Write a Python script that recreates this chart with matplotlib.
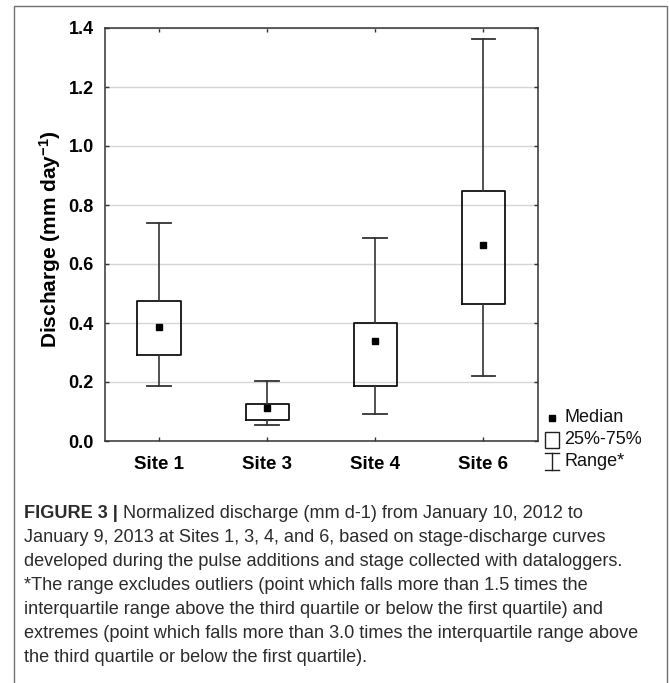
import matplotlib
matplotlib.use("Agg")
import matplotlib.pyplot as plt
import matplotlib.ticker as ticker
from matplotlib.patches import Rectangle
from matplotlib.lines import Line2D

# data (mm day-1)
sites = ["Site 1", "Site 3", "Site 4", "Site 6"]
range_low = [0.185, 0.053, 0.093, 0.220]
q25 = [0.291, 0.071, 0.185, 0.465]
median = [0.387, 0.111, 0.339, 0.665]
q75 = [0.474, 0.125, 0.401, 0.849]
range_high = [0.740, 0.202, 0.689, 1.362]
yticks = [0.0, 0.2, 0.4, 0.6, 0.8, 1.0, 1.2, 1.4]

legend_labels = ["Median", "25%-75%", "Range*"]

caption_bold = "FIGURE 3 | "
caption_lines = [
    "Normalized discharge (mm d-1) from January 10, 2012 to",
    "January 9, 2013 at Sites 1, 3, 4, and 6, based on stage-discharge curves",
    "developed during the pulse additions and stage collected with dataloggers.",
    "*The range excludes outliers (point which falls more than 1.5 times the",
    "interquartile range above the third quartile or below the first quartile) and",
    "extremes (point which falls more than 3.0 times the interquartile range above",
    "the third quartile or below the first quartile).",
]

W, H = 669, 683
plt.rcParams["font.family"] = ["Liberation Sans", "DejaVu Sans"]
plt.rcParams["mathtext.fontset"] = "custom"
plt.rcParams["mathtext.rm"] = "Liberation Sans:bold"
plt.rcParams["mathtext.it"] = "Liberation Sans:bold"
plt.rcParams["mathtext.bf"] = "Liberation Sans:bold"


def fx(px):
    return px / W


def fy(py):
    return 1 - py / H


fig = plt.figure(figsize=(W / 100, H / 100), dpi=100)
ax = fig.add_axes([fx(105), fy(441), (537.5 - 105) / W, (441 - 28) / H])

pos = [1, 2, 3, 4]
stats = []
for lo, a, m, b, hi in zip(range_low, q25, median, q75, range_high):
    stats.append(dict(whislo=lo, q1=a, med=m, q3=b, whishi=hi, fliers=[]))

ax.bxp(stats, positions=pos, widths=0.4, capwidths=0.22, showfliers=False,
       boxprops=dict(color="#111111", lw=1.3),
       whiskerprops=dict(color="#333333", lw=1.2),
       capprops=dict(color="#333333", lw=1.3),
       medianprops=dict(visible=False))
ax.plot(pos, median, "s", color="black", ms=4.8, ls="none", zorder=5)

ax.set_xlim(0.5, 4.5)
ax.set_ylim(0, 1.4)
ax.set_xticks(pos)
ax.set_xticklabels(sites)
ax.set_yticks(yticks)
ax.yaxis.set_major_formatter(ticker.FormatStrFormatter("%.1f"))
ax.grid(axis="y", color="#d6d6d6", lw=1.0)
ax.set_axisbelow(True)
ax.tick_params(direction="in", length=3, width=1, color="#333333",
               top=True, right=True)
ax.tick_params(axis="x", pad=11, labelsize=13.5)
ax.tick_params(axis="y", pad=8, labelsize=13)
for lab in ax.get_xticklabels() + ax.get_yticklabels():
    lab.set_fontweight("bold")
for sp in ax.spines.values():
    sp.set_color("#333333")
    sp.set_linewidth(1.1)

ax.set_ylabel(r"Discharge (mm day$^{-1}$)", fontsize=15, fontweight="bold")
ax.yaxis.set_label_coords(-0.098, 0.49)

# legend drawn by hand, beside the axes
tf = fig.transFigure
fig.add_artist(Line2D([fx(551.5)], [fy(417.5)], marker="s", ms=4.8,
                      color="black", ls="none", transform=tf))
fig.add_artist(Rectangle((fx(545), fy(448)), fx(14), 16 / H, fill=False,
                         ec="#222222", lw=1.0, transform=tf))
fig.add_artist(Line2D([fx(552), fx(552)], [fy(453), fy(470)], color="#222222",
                      lw=1.0, transform=tf))
for yy in (453, 470):
    fig.add_artist(Line2D([fx(545), fx(559)], [fy(yy), fy(yy)],
                          color="#222222", lw=1.0, transform=tf))
for lab, yy in zip(legend_labels, (418, 440, 461)):
    fig.text(fx(564), fy(yy), lab, fontsize=13, va="center", ha="left",
             color="#111111")

# caption
renderer = fig.canvas.get_renderer()
probe = fig.text(0, 0, caption_lines[2], fontsize=10)
w10 = probe.get_window_extent(renderer).width
probe.remove()
cap_size = 10 * 602 / w10
cap_col = "#2b2b2b"
x0 = fx(24)
line_y = [513 + 24 * i for i in range(len(caption_lines))]
tb = fig.text(x0, fy(line_y[0]), caption_bold, fontsize=cap_size,
              fontweight="bold", va="center", ha="left", color=cap_col)
bw = tb.get_window_extent(renderer).width
for i, (line, yy) in enumerate(zip(caption_lines, line_y)):
    xs = x0 + (bw / W if i == 0 else 0)
    fig.text(xs, fy(yy), line, fontsize=cap_size, va="center", ha="left",
             color=cap_col)

# outer frame
fig.add_artist(Rectangle((fx(14), fy(700)), fx(667 - 14), (700 - 6) / H,
                         fill=False, ec="#6f6f6f", lw=1.0, transform=tf))

fig.savefig("out.png", dpi=100)
